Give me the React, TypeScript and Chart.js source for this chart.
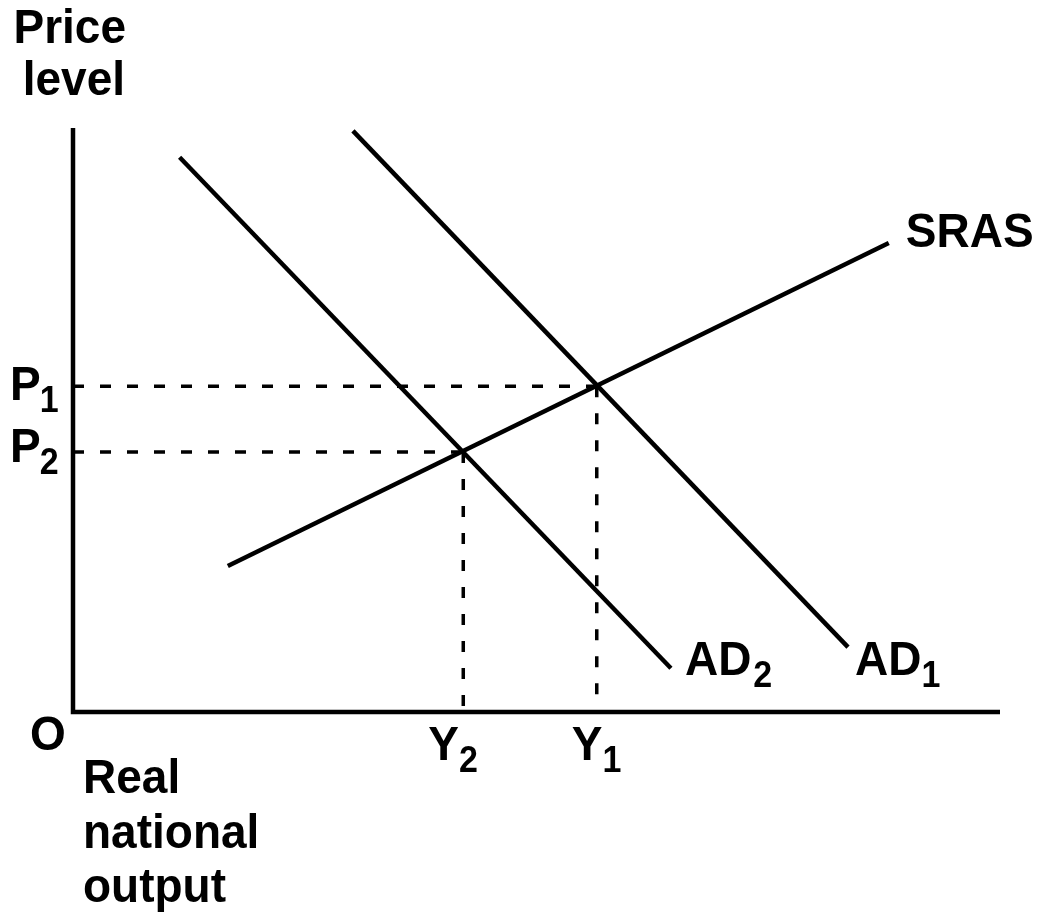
import React, { useEffect, useRef } from "react";
import { Chart, registerables } from "chart.js";

Chart.register(...registerables);

// ---- Data (arbitrary units: both axes run 0..10) ----
const X_RANGE = [0, 10];
const Y_RANGE = [0, 10];

const AD1_X = [3.02, 8.36];
const AD1_Y = [9.95, 1.11];

const AD2_X = [1.15, 6.45];
const AD2_Y = [9.5, 0.75];

const SRAS_X = [1.67, 8.8];
const SRAS_Y = [2.5, 8.03];

// equilibrium values: index 0 -> P1/Y1, index 1 -> P2/Y2
const PRICE_LEVELS = [5.58, 4.45];
const OUTPUT_LEVELS = [5.65, 4.21];
const PRICE_SUBS = ["1", "2"];
const OUTPUT_SUBS = ["1", "2"];

const CURVE_LABELS = ["AD", "AD", "SRAS"];
const CURVE_SUBS = ["1", "2", ""];

const Y_TITLE = ["Price", "level"];
const X_TITLE = ["Real", "national", "output"];
const ORIGIN_LABEL = "O";

const FONT_FAMILY = '"Liberation Sans", Arial, Helvetica, sans-serif';
const V_STRETCH = 1.06;

const pts = (xs: number[], ys: number[]) => xs.map((x, i) => ({ x, y: ys[i] }));

const labelPlugin = {
  id: "econLabels",
  afterDatasetsDraw(chart: any) {
    const { ctx, scales } = chart;
    const xs = scales.x;
    const ys = scales.y;
    const px = (v: number) => xs.getPixelForValue(v);
    const py = (v: number) => ys.getPixelForValue(v);
    const mainFont = `bold 46px ${FONT_FAMILY}`;
    const subFont = `bold 34px ${FONT_FAMILY}`;

    ctx.save();
    ctx.fillStyle = "#000";
    ctx.textBaseline = "alphabetic";

    const put = (text: string, x: number, base: number, font: string, align: CanvasTextAlign = "left") => {
      ctx.save();
      ctx.font = font;
      ctx.textAlign = align;
      ctx.translate(x, base);
      ctx.scale(1, V_STRETCH);
      ctx.fillText(text, 0, 0);
      ctx.restore();
    };

    const drawSub = (text: string, sub: string, left: number, base: number, gap = 0) => {
      put(text, left, base, mainFont);
      ctx.font = mainFont;
      const w = ctx.measureText(text).width;
      if (sub) put(sub, left + w + gap, base + 12, subFont);
    };

    const x0 = px(X_RANGE[0]);
    const y0 = py(Y_RANGE[0]);
    const yTop = py(Y_RANGE[1]);

    // y-axis title
    put(Y_TITLE[0], x0 + 53, yTop - 85, mainFont, "right");
    put(Y_TITLE[1], x0 + 52, yTop - 33, mainFont, "right");

    // x-axis title
    X_TITLE.forEach((t, i) => {
      put(t, x0 + 10, y0 + 81 + i * 54.5, mainFont);
    });

    // origin
    put(ORIGIN_LABEL, x0 - 43, y0 + 38, mainFont);

    // P labels
    const pOffsets = [14, 10];
    PRICE_LEVELS.forEach((p, i) => {
      drawSub("P", PRICE_SUBS[i], x0 - 63, py(p) + pOffsets[i], -1);
    });

    // Y labels
    const yOffsets = [-25, -35];
    OUTPUT_LEVELS.forEach((q, i) => {
      drawSub("Y", OUTPUT_SUBS[i], px(q) + yOffsets[i], y0 + 48, 0);
    });

    // curve labels at line ends
    const ends = [
      { x: px(AD1_X[1]), y: py(AD1_Y[1]), dx: 7, dy: 28, gap: 0 },
      { x: px(AD2_X[1]), y: py(AD2_Y[1]), dx: 14, dy: 7, gap: 2 },
      { x: px(SRAS_X[1]), y: py(SRAS_Y[1]), dx: 17, dy: 4, gap: 0 },
    ];
    ends.forEach((e, i) => {
      drawSub(CURVE_LABELS[i], CURVE_SUBS[i], e.x + e.dx, e.y + e.dy, e.gap);
    });

    ctx.restore();
  },
};

export default function App() {
  const canvasRef = useRef<HTMLCanvasElement | null>(null);

  useEffect(() => {
    document.body.style.margin = "0";
    document.body.style.background = "#fff";
    const canvas = canvasRef.current;
    if (!canvas) return;

    const solid = (data: any[], width: number) => ({
      data,
      showLine: true,
      borderColor: "#000",
      borderWidth: width,
      pointRadius: 0,
      pointHoverRadius: 0,
      fill: false,
      tension: 0,
      clip: false as any,
      borderJoinStyle: "miter" as const,
    });

    const dashed = (data: any[]) => ({
      ...solid(data, 3.5),
      borderDash: [11, 16],
    });

    const datasets: any[] = [];
    // axes
    datasets.push(
      solid(
        [
          { x: X_RANGE[0], y: Y_RANGE[1] },
          { x: X_RANGE[0], y: Y_RANGE[0] },
          { x: X_RANGE[1], y: Y_RANGE[0] },
        ],
        4.5
      )
    );
    // guide lines
    PRICE_LEVELS.forEach((p, i) => {
      const q = OUTPUT_LEVELS[i];
      datasets.push(
        dashed([
          { x: X_RANGE[0], y: p },
          { x: q, y: p },
        ])
      );
      datasets.push(
        dashed([
          { x: q, y: p },
          { x: q, y: Y_RANGE[0] },
        ])
      );
    });
    // curves
    datasets.push(solid(pts(AD1_X, AD1_Y), 4.5));
    datasets.push(solid(pts(AD2_X, AD2_Y), 4.5));
    datasets.push(solid(pts(SRAS_X, SRAS_Y), 4.5));

    const chart = new Chart(canvas, {
      type: "scatter",
      data: { datasets },
      options: {
        animation: false,
        responsive: false,
        maintainAspectRatio: false,
        devicePixelRatio: 1,
        layout: { padding: { left: 73, right: 45, top: 128, bottom: 203 } },
        plugins: {
          legend: { display: false },
          tooltip: { enabled: false },
          title: { display: false },
        },
        events: [],
        scales: {
          x: { type: "linear", min: X_RANGE[0], max: X_RANGE[1], display: false },
          y: { type: "linear", min: Y_RANGE[0], max: Y_RANGE[1], display: false },
        },
      },
      plugins: [labelPlugin],
    });

    return () => chart.destroy();
  }, []);

  return (
    <div style={{ position: "fixed", left: 0, top: 0, width: 1045, height: 915, background: "#fff" }}>
      <canvas ref={canvasRef} width={1045} height={915} style={{ display: "block", width: 1045, height: 915 }} />
    </div>
  );
}
